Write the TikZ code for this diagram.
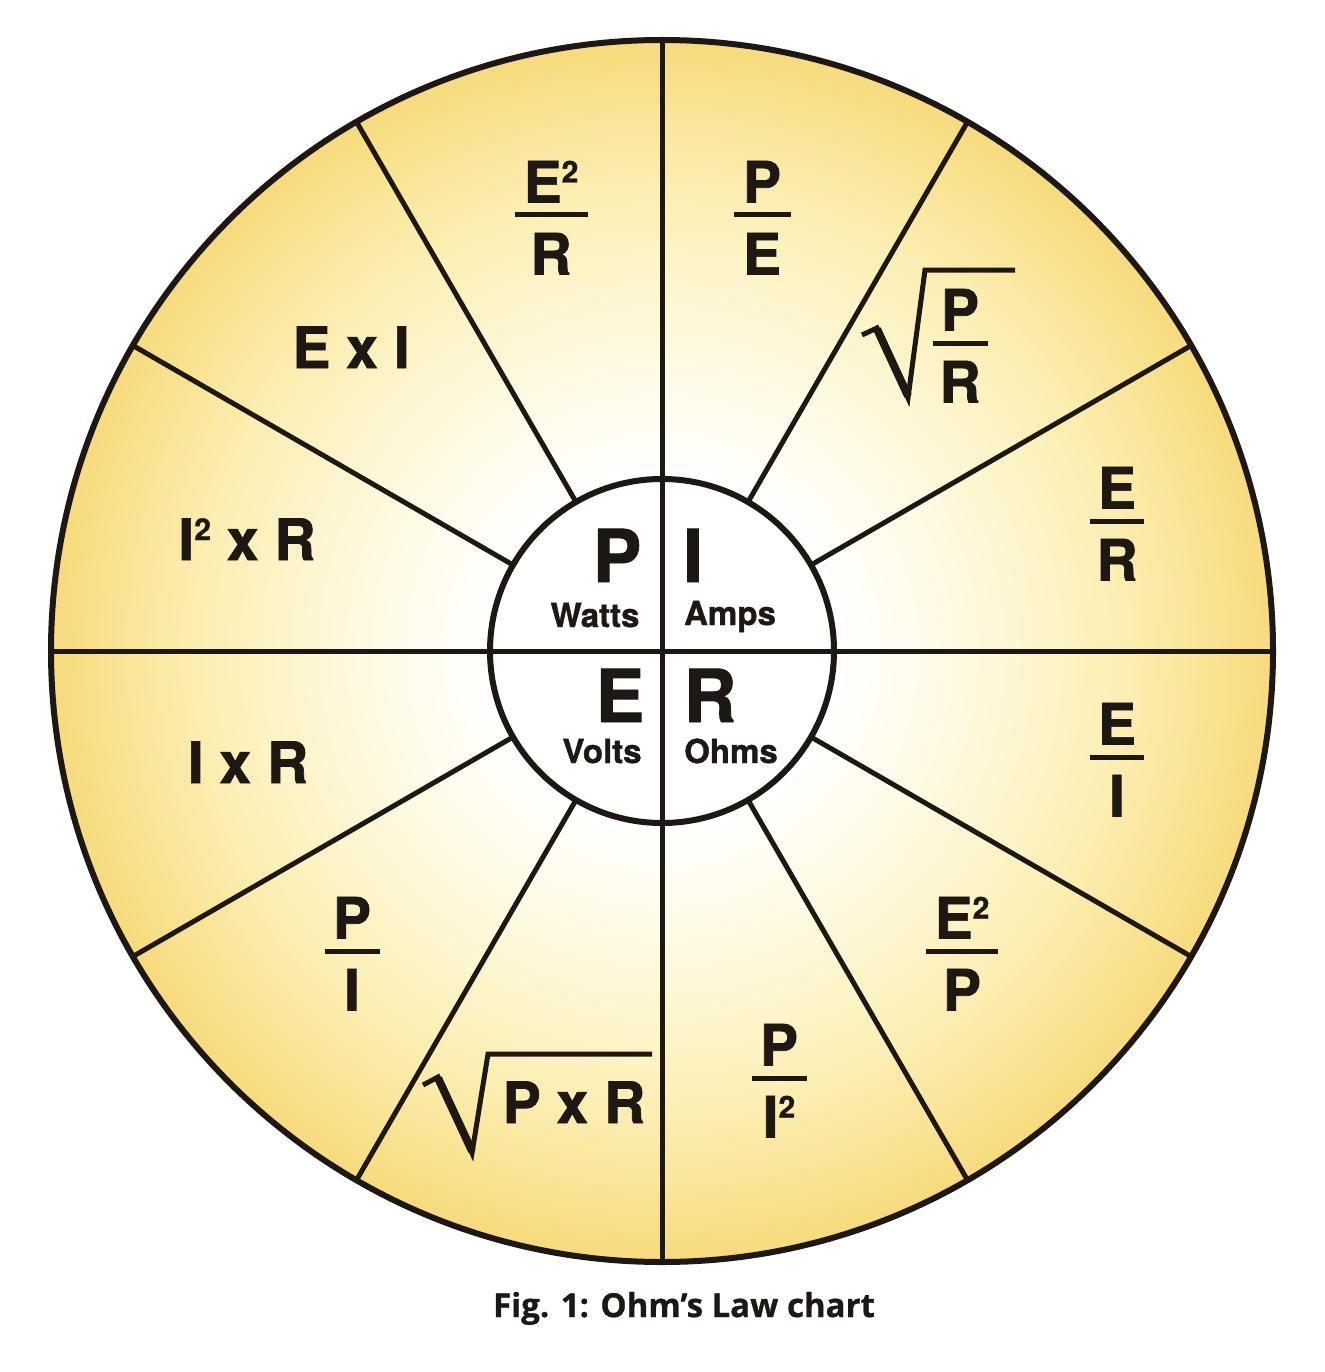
\documentclass[tikz,border=0pt]{standalone}
\usepackage{fontspec}
\newfontfamily\heros{texgyreheros-bold}[Extension=.otf, FakeBold=1.2]
\newfontfamily\capfont{Open Sans}[FakeBold=0.8]
\definecolor{ink}{RGB}{30,24,20}
\definecolor{ylA}{RGB}{254,250,226}
\definecolor{ylB}{RGB}{252,238,178}
\definecolor{ylC}{RGB}{247,218,124}
\pgfdeclareradialshading{ohmglow}{\pgfpoint{0bp}{0bp}}{color(0bp)=(white); color(7bp)=(white); color(12bp)=(ylA); color(19bp)=(ylB); color(25bp)=(ylC); color(50bp)=(ylC)}
\tikzset{
  formula/.style={font=\heros\fontsize{57}{57}\selectfont, inner sep=0pt, text=ink},
  bigletter/.style={font=\heros\fontsize{73}{73}\selectfont, inner sep=0pt, text=ink},
  unitname/.style={font=\heros\fontsize{33}{33}\selectfont, inner sep=0pt, text=ink},
  fracbar/.style={draw=ink, line width=5pt},
  spoke/.style={draw=ink, line width=5pt},
  radical/.style={draw=ink, line width=5pt, line join=miter},
  ring/.style={draw=ink, line width=6pt},
}
\newcommand\sq{\raisebox{20pt}{\fontsize{30}{30}\selectfont 2}}
\newcommand\ohmfrac[6]{%
  \node[formula,anchor=base] (#1-num) at (#2,#3-12.5) {#4};
  \node[formula,anchor=base] (#1-den) at (#2,#3+59.5) {#5};
  \draw[fracbar] (#2-#6/2,#3) -- (#2+#6/2,#3);
}
\begin{document}
\begin{tikzpicture}[x=1pt,y=-1pt]
\useasboundingbox (0,0) rectangle (1324,1372);
\fill[white] (0,0) rectangle (1324,1372);
\coordinate (c) at (662,651);
% shaded disc
\fill[shading=ohmglow] (c) circle[radius=611pt];
\fill[white] (c) circle[radius=172pt];
% spokes
\foreach \a in {30,60,120,150,210,240,300,330}
  \draw[spoke] (c) ++(\a:172pt) -- ++(\a:439pt);
\draw[spoke] (c) ++(0:611pt) -- ++(180:1222pt);
\draw[spoke] (c) ++(90:611pt) -- ++(270:1222pt);
\draw[ring] (c) circle[radius=172pt];
\draw[ring] (c) circle[radius=611pt];
% centre letters
\node[bigletter,anchor=base] (P) at (617,582) {P};
\node[bigletter,anchor=base] (I) at (693,582) {I};
\node[bigletter,anchor=base] (E) at (620,722) {E};
\node[bigletter,anchor=base] (R) at (710,722) {R};
\node[unitname,anchor=base] (watts) at (595,627) {Watts};
\node[unitname,anchor=base] (amps) at (730,625) {Amps};
\node[unitname,anchor=base] (volts) at (602,763) {Volts};
\node[unitname,anchor=base] (ohms) at (731,763) {Ohms};
% fractions
\ohmfrac{pe}{762}{215}{P}{E}{57}
\ohmfrac{e2r}{551}{215}{E\sq}{R}{73}
\ohmfrac{pr}{960}{343}{P}{R}{55}
\ohmfrac{er}{1117}{521}{E}{R}{54}
\ohmfrac{ei}{1117}{757}{E}{I}{54}
\ohmfrac{e2p}{962}{951}{E\sq}{P}{72}
\ohmfrac{pit}{779}{1078}{P}{I\sq}{55}
\ohmfrac{pi}{352}{951}{P}{I}{55}
% single-line formulas
\node[formula,anchor=base] (exi) at (351,368) {E x I};
\node[formula,anchor=base] (itxr) at (247,560) {I\sq{} x R};
\node[formula,anchor=base] (ixr) at (248,783) {I x R};
\node[formula,anchor=base] (pxr) at (574,1123) {P x R};
% radicals
\draw[radical] (862,335) -- (877,328) -- (908,398) -- (925,270) -- (1015,270);
\draw[draw=ink, line width=8pt] (877,329) -- (908,396);
\draw[radical] (423,1085) -- (438,1077) -- (472,1153) -- (488,1054) -- (652,1054);
\draw[draw=ink, line width=8pt] (438,1078) -- (472,1151);
% caption
\node[font=\capfont\bfseries\fontsize{33}{33}\selectfont, text=ink, anchor=base, inner sep=0pt] (caption) at (684,1317) {Fig. 1: Ohm’s Law chart};
\end{tikzpicture}
\end{document}
